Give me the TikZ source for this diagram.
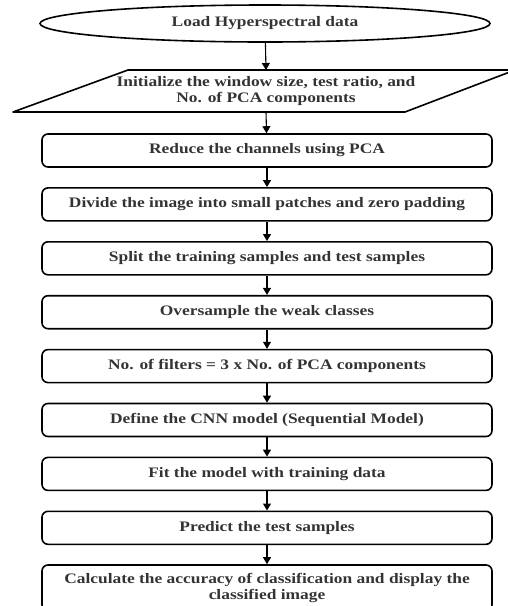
\documentclass[tikz,border=0pt]{standalone}
\usepackage{fontspec}
\setmainfont[FakeStretch=1.2]{Liberation Serif}
\usetikzlibrary{shapes.geometric,arrows.meta}
\begin{document}
\begin{tikzpicture}[x=1pt,y=-1pt,
  every node/.style={font=\fontsize{14.5}{15.5}\selectfont\bfseries, text=black!80},
  stepbox/.style={draw, line width=1.6pt, rounded corners=6pt, minimum width=450pt, minimum height=33pt, inner sep=0pt, align=center},
  flow/.style={-{Triangle[length=7pt,width=8pt]}, line width=1.1pt}
]
\useasboundingbox (0,0) rectangle (507,606);
\node[draw, ellipse, line width=1.6pt, minimum width=450pt, minimum height=37pt, inner sep=0pt] (load) at (265,23.5) {Load Hyperspectral data};
\node[align=center, inner sep=0pt] (init) at (266,91) {Initialize the window size, test ratio, and\\No. of PCA components};
\draw[line width=1.6pt, line join=round] (13,112) -- (128,70) -- (515,70) -- (405,112) -- cycle;
\coordinate (inittop) at (266,70);
\coordinate (initbot) at (266,112);
\node[stepbox] (b1) at (267,150.5) {Reduce the channels using PCA};
\node[stepbox] (b2) at (267,204.4) {Divide the image into small patches and zero padding};
\node[stepbox] (b3) at (267,258.3) {Split the training samples and test samples};
\node[stepbox] (b4) at (267,312.2) {Oversample the weak classes};
\node[stepbox] (b5) at (267,366.1) {No. of filters = 3 x No. of PCA components};
\node[stepbox] (b6) at (267,420) {Define the CNN model (Sequential Model)};
\node[stepbox] (b7) at (267,473.9) {Fit the model with training data};
\node[stepbox] (b8) at (267,527.8) {Predict the test samples};
\node[stepbox, minimum height=46pt] (b9) at (267,588) {Calculate the accuracy of classification and display the\\classified image};
\draw[flow] (load) -- (inittop);
\draw[flow] (initbot) -- (b1);
\draw[flow] (b1) -- (b2);
\draw[flow] (b2) -- (b3);
\draw[flow] (b3) -- (b4);
\draw[flow] (b4) -- (b5);
\draw[flow] (b5) -- (b6);
\draw[flow] (b6) -- (b7);
\draw[flow] (b7) -- (b8);
\draw[flow] (b8) -- (b9);
\end{tikzpicture}
\end{document}
